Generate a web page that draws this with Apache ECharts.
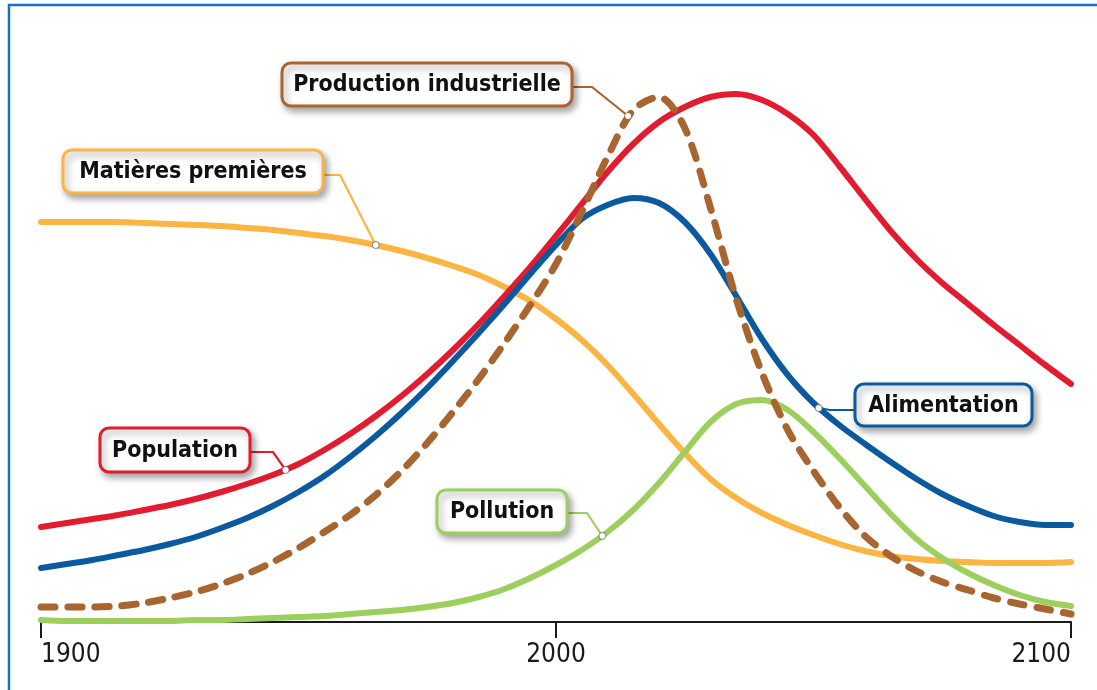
<!DOCTYPE html>
<html>
<head>
<meta charset="utf-8">
<script src="https://cdn.jsdelivr.net/npm/echarts@6/dist/echarts.min.js"></script>
<style>
html,body{margin:0;padding:0;background:#fff;}
#chart{width:1097px;height:690px;}
</style>
</head>
<body>
<div id="chart"></div>
<script>
// ---- data ----
const years = [1900,1905,1910,1915,1920,1925,1930,1935,1940,1945,1950,1955,1960,1965,1970,1975,1980,1985,1990,1995,2000,2005,2010,2015,2020,2025,2030,2035,2040,2045,2050,2055,2060,2065,2070,2075,2080,2085,2090,2095,2100];
const population   = [95,99,103,107,112,117,123,130,138,147,158,172,188,206,226,248,272,298,326,355,386,418,450,478,500,515,525,528,522,508,487,456,423,391,363,339,318,297,277,257,238];
const alimentation = [54,58,62,67,72,78,85,94,104,116,130,146,165,186,209,234,261,289,318,348,377,403,417,424,419,400,368,326,283,247,219,197,178,160,143,128,116,106,100,97,97];
const production   = [15,15,15,16,19,24,30,38,48,60,74,90,107,127,151,179,210,243,279,317,358,410,465,512,525,494,414,323,249,192,151,115,86,66,51,40,32,24,18,13,8];
const matieres     = [400,400,400,400,399,398,397,396,394,392,389,386,382,377,371,364,356,347,335,321,303,282,257,228,198,169,143,124,109,97,87,78,71,66,63,61,60,59,59,59,60];
const pollution    = [2,1,1,1,1,1,2,2,3,4,5,6,8,10,12,15,19,25,33,44,57,72,90,112,139,170,200,218,222,212,190,164,136,108,83,64,49,37,27,20,16];
const xTicks = [1900, 2000, 2100];

// annotation labels and the point on the curve each one points to [year, value]
const labelTexts = ['Production industrielle','Matières premières','Population','Pollution','Alimentation'];
const labelPoints = [[2014,506],[1965,377],[1947.5,152],[2009,86],[2051,214]];

const colors = {
  red:'#e21b2e', blue:'#0b5aa0', brown:'#a9652f', yellow:'#fcb443', green:'#9dcf5e'
};
const labelColors = [colors.brown, colors.yellow, colors.red, colors.green, colors.blue];
// box layout (pixels): box, anchor point on box, elbow
const boxLayout = [
  {x:282,y:63,w:290,h:43,ax:572,ay:87,ex:592,ey:87},
  {x:63,y:150,w:260,h:43,ax:323,ay:175,ex:340,ey:175},
  {x:100,y:428,w:150,h:44,ax:250,ay:452,ex:273,ey:452},
  {x:437,y:490,w:130,h:43,ax:567,ay:513,ex:587,ey:513},
  {x:855,y:384,w:177,h:42,ax:855,ay:410,ex:830,ey:410}
];

const zip = (a) => years.map((y,i)=>[y,a[i]]);
const FONT = '"Liberation Sans Narrow","Arial Narrow","DejaVu Sans Condensed",sans-serif';

const chart = echarts.init(document.getElementById('chart'));
const lineBase = (name, data, color, z, extra) => Object.assign({
  name, type:'line', data: zip(data), smooth:0.3, symbol:'none', z,
  lineStyle:{color, width:6, cap:'round', join:'round'},
  emphasis:{disabled:true}, silent:true
}, extra||{});

chart.setOption({
  animation:false,
  backgroundColor:'#fff',
  grid:{left:41,right:26,top:22,bottom:68,containLabel:false,outerBoundsMode:'none'},
  xAxis:{
    type:'value', min:1900, max:2100, interval:100,
    axisLine:{show:true,onZero:false,lineStyle:{color:'#1a1a1a',width:2}},
    axisTick:{show:true,length:16,lineStyle:{color:'#1a1a1a',width:2}},
    splitLine:{show:false},
    axisLabel:{
      color:'#1a1a1a', fontSize:26, fontFamily:FONT, margin:20,
      alignMinLabel:'left', alignMaxLabel:'right',
      formatter:(v)=> xTicks.indexOf(v)>=0 ? String(v) : ''
    }
  },
  yAxis:{type:'value',min:0,max:600,show:false,splitLine:{show:false}},
  series:[
    lineBase('Matières premières', matieres, colors.yellow, 2),
    lineBase('Population', population, colors.red, 3),
    lineBase('Pollution', pollution, colors.green, 4),
    lineBase('Alimentation', alimentation, colors.blue, 5),
    lineBase('Production industrielle', production, colors.brown, 6,
      {lineStyle:{color:colors.brown,width:7,type:[14,13],cap:'round'}})
  ]
});

const g = [];
g.push({type:'rect', z:0, silent:true,
  shape:{x:9,y:5,width:1110,height:710},
  style:{fill:'none',stroke:'#1672c2',lineWidth:2.5}});
labelTexts.forEach((t,i)=>{
  const b = boxLayout[i];
  const c = labelColors[i];
  const p = chart.convertToPixel({gridIndex:0}, labelPoints[i]);
  g.push({type:'polyline', z:20, silent:true,
    shape:{points:[[b.ax,b.ay],[b.ex,b.ey],p]},
    style:{stroke:c,lineWidth:2.2,fill:'none'}});
  g.push({type:'rect', z:21, silent:true,
    shape:{x:b.x,y:b.y,width:b.w,height:b.h,r:9},
    style:{fill:'#fff',stroke:c,lineWidth:3,shadowBlur:7,shadowOffsetX:3,shadowOffsetY:4,shadowColor:'rgba(0,0,0,0.35)'}});
  g.push({type:'text', z:22, silent:true,
    style:{text:t,x:b.x+b.w/2,y:b.y+b.h/2+1,align:'center',verticalAlign:'middle',
      font:'bold 23px '+FONT, fill:'#111'}});
  g.push({type:'circle', z:23, silent:true,
    shape:{cx:p[0],cy:p[1],r:3.5},
    style:{fill:'#fff',stroke:'rgba(60,60,60,0.6)',lineWidth:1}});
});
chart.setOption({graphic:g});
</script>
</body>
</html>
